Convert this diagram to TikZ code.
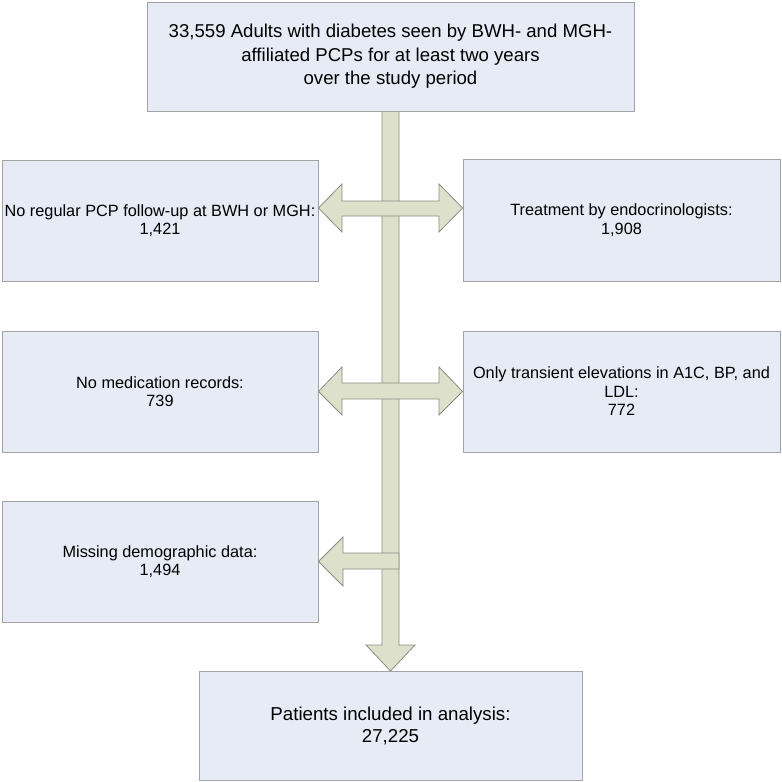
\documentclass[tikz,border=0pt]{standalone}
\usepackage{fontspec}
\setmainfont{Liberation Sans}
\definecolor{boxfill}{HTML}{E6EBF6}
\definecolor{boxline}{HTML}{A3A3A3}
\definecolor{arrfill}{HTML}{DDE0CB}
\definecolor{arrline}{HTML}{8A8A82}
\tikzset{
  box/.style={draw=boxline, fill=boxfill, line width=0.9pt, inner sep=0pt, align=center,
    font=\fontsize{16.3}{18.5}\selectfont},
  bigbox/.style={box, font=\fontsize{18.6}{23.5}\selectfont},
  blockarrow/.style={draw=arrline, fill=arrfill, line width=0.8pt, line join=miter}
}
\begin{document}
\begin{tikzpicture}[x=1pt,y=-1pt]
\useasboundingbox (0,0) rectangle (782,782);
% boxes (positions)
\coordinate (shaftTL) at (382,111);
% vertical shaft with head
\draw[blockarrow] (382,111) -- (382,645) -- (366,645) -- (390.5,671) -- (415,645) -- (399,645) -- (399,111) -- cycle;
\node[bigbox, minimum width=487pt, minimum height=109pt] (top) at (390.5,56.5)
  {33,559 Adults with diabetes seen by BWH- and MGH-\\affiliated PCPs for at least two years\\over the study period};
\node[box, minimum width=316pt, minimum height=121pt] (L1) at (160,220.5)
  {No regular PCP follow-up at BWH or MGH:\\1,421};
\node[box, minimum width=317pt, minimum height=122pt] (R1) at (621.5,220)
  {Treatment by endocrinologists:\\1,908};
\node[box, minimum width=316pt, minimum height=121pt] (L2) at (160,391.5)
  {No medication records:\\739};
\node[box, minimum width=317pt, minimum height=121pt] (R2) at (621.5,391.5)
  {Only transient elevations in A1C, BP, and\\LDL:\\772};
\node[box, minimum width=316pt, minimum height=121pt] (L3) at (160,561.5)
  {Missing demographic data:\\1,494};
\node[bigbox, minimum width=383pt, minimum height=109pt, font=\fontsize{18.7}{22}\selectfont] (bot) at (390.5,725.5)
  {Patients included in analysis:\\27,225};
% double arrow 1
\draw[blockarrow] (L1.east |- 0,208) -- (342,184) -- (342,201) -- (439,201) -- (439,184) -- (R1.west |- 0,208)
  -- (439,232) -- (439,216) -- (342,216) -- (342,232) -- cycle;
% double arrow 2
\draw[blockarrow] (L2.east) -- (342,367) -- (342,383) -- (439,383) -- (439,367) -- (R2.west)
  -- (439,415) -- (439,399) -- (342,399) -- (342,415) -- cycle;
% left arrow 3
\draw[blockarrow] (L3.east) -- (343,537) -- (343,553) -- (399,553) -- (399,569) -- (343,569) -- (343,586) -- cycle;
\end{tikzpicture}
\end{document}
